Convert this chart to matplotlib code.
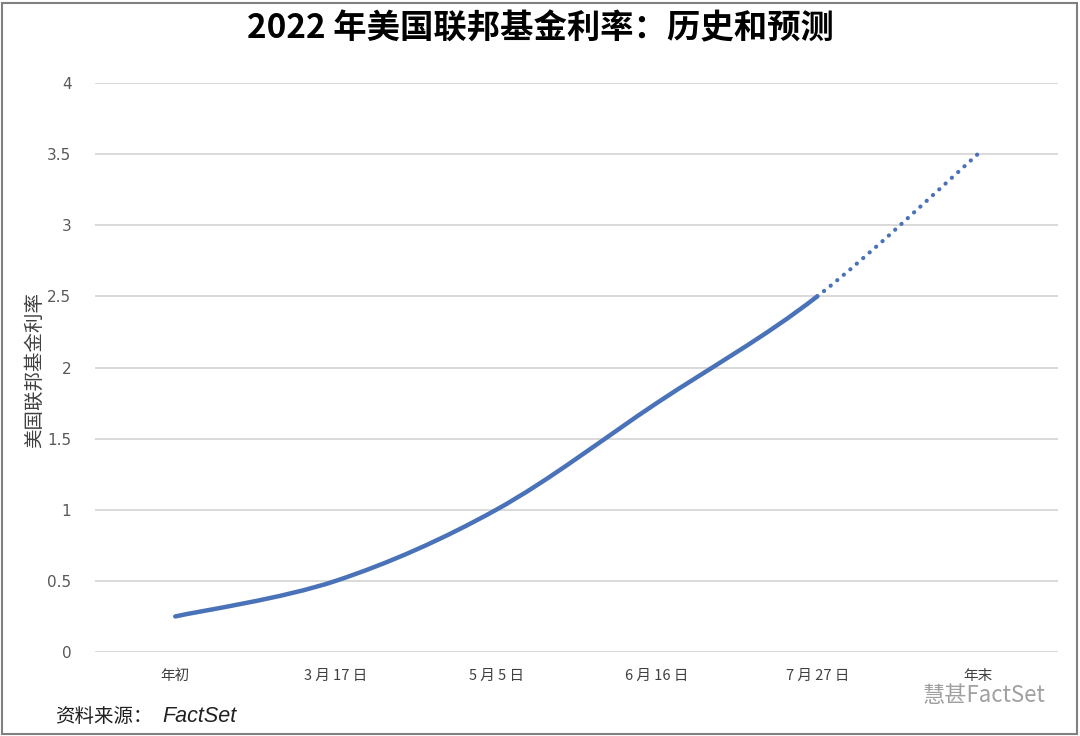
import numpy as np
import matplotlib
matplotlib.use("Agg")
import matplotlib.pyplot as plt
from matplotlib.path import Path
from matplotlib.patches import PathPatch, Rectangle

plt.rcParams['font.family'] = ['Noto Sans CJK SC', 'DejaVu Sans']

# data
categories = ["年初", "3 月 17 日", "5 月 5 日", "6 月 16 日", "7 月 27 日", "年末"]
rates = [0.25, 0.5, 1.0, 1.75, 2.5, 3.5]
n_history = 5   # first five points are history, last segment is forecast

title = "2022 年美国联邦基金利率：历史和预测"
ylabel = "美国联邦基金利率"
source_cn = "资料来源："
source_en = "FactSet"
watermark = "慧甚FactSet"

line_color = "#4a72b8"

fig = plt.figure(figsize=(10.8, 7.36), dpi=100)
ax = fig.add_axes([95/1080, 1 - 652/736, 963/1080, 569/736])

x = np.arange(len(categories))
y = np.array(rates)


def smooth_path(xs, ys, tension=1/6):
    # bezier path through the points (Catmull-Rom style tangents, like Excel's smoothed line)
    verts = [(xs[0], ys[0])]
    codes = [Path.MOVETO]
    k = len(xs)
    for i in range(k - 1):
        p0 = (xs[max(i-1, 0)], ys[max(i-1, 0)])
        p1 = (xs[i], ys[i])
        p2 = (xs[i+1], ys[i+1])
        p3 = (xs[min(i+2, k-1)], ys[min(i+2, k-1)])
        c1 = (p1[0] + (p2[0]-p0[0])*tension, p1[1] + (p2[1]-p0[1])*tension)
        c2 = (p2[0] - (p3[0]-p1[0])*tension, p2[1] - (p3[1]-p1[1])*tension)
        verts += [c1, c2, p2]
        codes += [Path.CURVE4]*3
    return verts, codes


verts, codes = smooth_path(x, y)
hist_len = 1 + 3*(n_history-1)
hist = Path(verts[:hist_len], codes[:hist_len])
fore = Path(verts[hist_len-1:], [Path.MOVETO] + codes[hist_len:])

ax.add_patch(PathPatch(hist, facecolor="none", edgecolor=line_color, lw=3.2,
                       capstyle="round", zorder=3))
ax.add_patch(PathPatch(fore, facecolor="none", edgecolor=line_color, lw=3.0,
                       linestyle=(0, (0.05, 2.0)), capstyle="round", zorder=3))

ax.set_xlim(-0.5, len(categories) - 0.5)
ax.set_ylim(0, 4)
ax.set_yticks(np.arange(0, 4.01, 0.5))
ax.set_yticklabels(["0", "0.5", "1", "1.5", "2", "2.5", "3", "3.5", "4"])
ax.set_xticks(x)
ax.set_xticklabels(categories)
ax.grid(axis="y", color="#d9d9d9", lw=1.4)
ax.set_axisbelow(True)
for s in ax.spines.values():
    s.set_visible(False)
ax.tick_params(axis="y", length=0, pad=17, labelsize=11, labelcolor="#595959")
ax.tick_params(axis="x", length=0, pad=12, labelsize=10.5, labelcolor="#404040")
for lbl in ax.get_yticklabels():
    lbl.set_family(["DejaVu Sans"])

fig.text(0.5, 1 - 29/736, title, ha="center", va="center", fontsize=24,
         fontweight="bold", color="black")
fig.text(35/1080, 1 - 370/736, ylabel, rotation=90, ha="center", va="center",
         fontsize=14, color="#404040")
fig.text(55/1080, 1 - 716/736, source_cn, ha="left", va="center", fontsize=14,
         color="#202020")
fig.text(162/1080, 1 - 716/736, source_en, ha="left", va="center", fontsize=15.5,
         style="italic", family=["Liberation Sans"], color="#202020")
fig.text(1045/1080, 1 - 696/736, watermark, ha="right", va="center", fontsize=16,
         color="#a0a0a0")

fig.add_artist(Rectangle((2/1080, 2/736), 1075/1080, 731/736, transform=fig.transFigure,
                         facecolor="none", edgecolor="#808080", lw=1.5))

fig.savefig("out.png", dpi=100)
